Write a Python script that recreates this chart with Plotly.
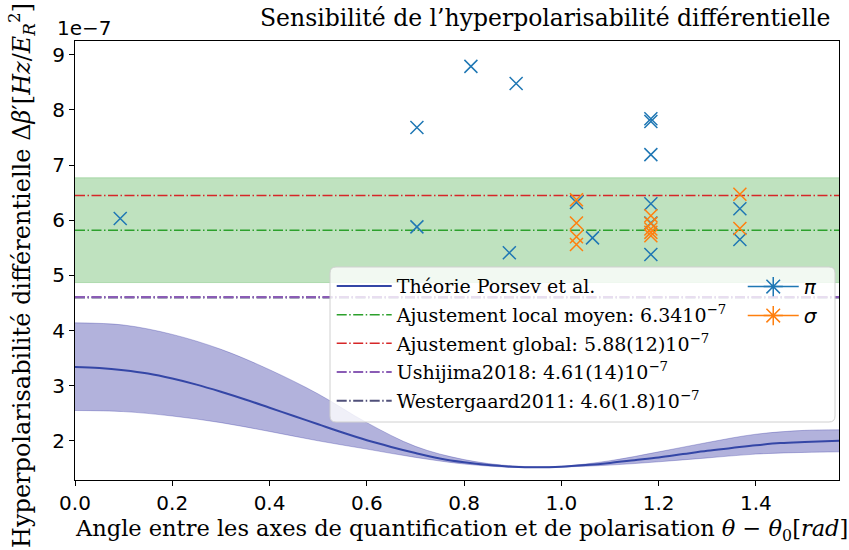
import math
import plotly.graph_objects as go

# ---------------- data (units of 1e-7) ----------------
theory_x = [0.0, 0.05, 0.1, 0.15, 0.2, 0.25, 0.3, 0.35, 0.4, 0.45, 0.5, 0.55, 0.6, 0.65,
            0.7, 0.75, 0.8, 0.85, 0.9, 0.95, 1.0, 1.05, 1.1, 1.15, 1.2, 1.25, 1.3, 1.35,
            1.4, 1.45, 1.5, 1.5708]
theory_y = [3.34, 3.32, 3.28, 3.22, 3.13, 3.02, 2.89, 2.75, 2.60, 2.45, 2.30, 2.15, 2.01, 1.89,
            1.78, 1.68, 1.61, 1.56, 1.53, 1.52, 1.53, 1.56, 1.60, 1.65, 1.70, 1.76, 1.82, 1.87,
            1.92, 1.96, 1.98, 2.00]
band_x = [0.0, 0.1, 0.2, 0.3, 0.4, 0.5, 0.6, 0.7, 0.8, 0.9, 1.0, 1.1, 1.2, 1.3, 1.4, 1.5, 1.5708]
band_upper = [4.14, 4.10, 3.93, 3.66, 3.29, 2.85, 2.33, 1.90, 1.66, 1.545, 1.54, 1.64, 1.80, 1.97, 2.12, 2.19, 2.20]
band_lower = [2.55, 2.53, 2.45, 2.33, 2.17, 2.00, 1.85, 1.70, 1.58, 1.52, 1.525, 1.56, 1.62, 1.69, 1.76, 1.79, 1.80]

pi_x = [0.093, 0.703, 0.703, 0.814, 0.907, 0.893, 1.031, 1.064, 1.184, 1.184, 1.184, 1.184, 1.184, 1.184, 1.367, 1.367]
pi_y = [6.03, 7.68, 5.88, 8.79, 8.48, 5.41, 6.32, 5.68, 7.84, 7.79, 7.19, 6.30, 5.95, 5.38, 6.21, 5.65]
sigma_x = [1.031, 1.031, 1.031, 1.031, 1.184, 1.184, 1.184, 1.184, 1.184, 1.367, 1.367]
sigma_y = [6.37, 5.95, 5.70, 5.56, 6.08, 5.94, 5.84, 5.78, 5.72, 6.47, 5.85]

local_mean = 5.82
local_err = 0.95
global_fit = 6.45
ushijima = 4.61
westergaard = 4.60

x_ticks = [0.0, 0.2, 0.4, 0.6, 0.8, 1.0, 1.2, 1.4]
y_ticks = [2, 3, 4, 5, 6, 7, 8, 9]

XMAX = math.pi / 2
SERIF = "DejaVu Serif"
SANS = "DejaVu Sans"
DASHDOT = "10px,2.5px,1.5px,2.5px"

fig = go.Figure()

# green band (local fit)
fig.add_trace(go.Scatter(x=[0, XMAX], y=[local_mean - local_err] * 2, mode="lines",
                         line=dict(width=0.8, color="rgba(44,160,44,0.35)"), showlegend=False, hoverinfo="skip"))
fig.add_trace(go.Scatter(x=[0, XMAX], y=[local_mean + local_err] * 2, mode="lines", fill="tonexty",
                         fillcolor="rgba(44,160,44,0.3)",
                         line=dict(width=0.8, color="rgba(44,160,44,0.35)"), showlegend=False, hoverinfo="skip"))

# horizontal lines
fig.add_trace(go.Scatter(x=[0, XMAX], y=[local_mean] * 2, mode="lines", name="Ajustement local moyen: 6.3410<sup>−7</sup>",
                         line=dict(color="#2ca02c", width=1.5, dash=DASHDOT), legendrank=2, legendgroup="b"))
fig.add_trace(go.Scatter(x=[0, XMAX], y=[global_fit] * 2, mode="lines", name="Ajustement global: 5.88(12)10<sup>−7</sup>",
                         line=dict(color="#d62728", width=1.5, dash=DASHDOT), legendrank=3, legendgroup="c"))
fig.add_trace(go.Scatter(x=[0, XMAX], y=[westergaard] * 2, mode="lines", name="Westergaard2011: 4.6(1.8)10<sup>−7</sup>",
                         line=dict(color="#50507a", width=2, dash=DASHDOT), legendrank=5, legendgroup="e"))
fig.add_trace(go.Scatter(x=[0, XMAX], y=[ushijima] * 2, mode="lines", name="Ushijima2018: 4.61(14)10<sup>−7</sup>",
                         line=dict(color="#8a5cb5", width=2, dash=DASHDOT), legendrank=4, legendgroup="d"))

# theory band + line
fig.add_trace(go.Scatter(x=band_x, y=band_lower, mode="lines", line=dict(width=0.8, color="rgba(0,0,139,0.3)", shape="spline"),
                         showlegend=False, hoverinfo="skip"))
fig.add_trace(go.Scatter(x=band_x, y=band_upper, mode="lines", fill="tonexty", fillcolor="rgba(0,0,139,0.3)",
                         line=dict(width=0.8, color="rgba(0,0,139,0.3)", shape="spline"), showlegend=False, hoverinfo="skip"))
fig.add_trace(go.Scatter(x=theory_x, y=theory_y, mode="lines", name="Théorie Porsev et al.",
                         line=dict(color="#3446a6", width=2, shape="spline"), legendrank=1, legendgroup="a"))

# points
fig.add_trace(go.Scatter(x=pi_x, y=pi_y, mode="markers", showlegend=False,
                         marker=dict(symbol="x-thin-open", size=13, line=dict(width=1.5, color="#1f77b4"), color="#1f77b4")))
fig.add_trace(go.Scatter(x=sigma_x, y=sigma_y, mode="markers", showlegend=False,
                         marker=dict(symbol="x-thin-open", size=13, line=dict(width=1.5, color="#ff7f0e"), color="#ff7f0e")))

# legend-only entries for pi / sigma
fig.add_trace(go.Scatter(x=[None], y=[None], mode="lines+markers", name="<i>π</i>", legend="legend2", legendgroup="p",
                         line=dict(color="#1f77b4", width=1.5),
                         marker=dict(symbol="asterisk-open", size=16, line=dict(width=1.5, color="#1f77b4"))))
fig.add_trace(go.Scatter(x=[None], y=[None], mode="lines+markers", name="<i>σ</i>", legend="legend2", legendgroup="s",
                         line=dict(color="#ff7f0e", width=1.5),
                         marker=dict(symbol="asterisk-open", size=16, line=dict(width=1.5, color="#ff7f0e"))))

# legend background box (rounded, semi transparent)
x0, x1, y0, y1 = 0.3338, 0.9948, 0.1321, 0.4852
rx, ry = 6 / 764, 6 / 439
path = (f"M {x0+rx},{y0} L {x1-rx},{y0} Q {x1},{y0} {x1},{y0+ry} L {x1},{y1-ry} Q {x1},{y1} {x1-rx},{y1} "
        f"L {x0+rx},{y1} Q {x0},{y1} {x0},{y1-ry} L {x0},{y0+ry} Q {x0},{y0} {x0+rx},{y0} Z")
fig.add_shape(type="path", path=path, xref="paper", yref="paper", layer="above",
              fillcolor="rgba(255,255,255,0.8)", line=dict(color="#d0d0d0", width=1))

axis_common = dict(showgrid=False, zeroline=False, showline=True, mirror=True, linecolor="black", linewidth=1,
                   ticks="outside", ticklen=5, tickcolor="black", tickwidth=1,
                   tickfont=dict(family=SANS, size=20, color="black"))

fig.update_layout(
    width=849, height=550,
    margin=dict(l=75, r=10, t=41, b=70),
    paper_bgcolor="white", plot_bgcolor="white",
    xaxis=dict(range=[0, XMAX], tickvals=x_ticks, ticktext=[f"{v:.1f}" for v in x_ticks], **axis_common),
    yaxis=dict(range=[1.29, 9.25], tickvals=y_ticks, ticktext=[str(v) for v in y_ticks], **axis_common),
    legend=dict(x=0.336, y=0.485, xanchor="left", yanchor="top", bgcolor="rgba(0,0,0,0)", borderwidth=0,
                font=dict(family=SERIF, size=19, color="black"), tracegroupgap=1, itemwidth=55),
    legend2=dict(x=0.874, y=0.485, xanchor="left", yanchor="top", bgcolor="rgba(0,0,0,0)", borderwidth=0,
                 font=dict(family=SANS, size=20, color="black"), tracegroupgap=0, itemwidth=51),
    showlegend=True,
    annotations=[
        dict(text="1e−7", xref="paper", yref="paper", x=-0.026, y=1.0296, xanchor="left", yanchor="middle",
             showarrow=False, font=dict(family=SANS, size=20, color="black")),
        dict(text="Sensibilité de l’hyperpolarisabilité différentielle", xref="paper", yref="paper",
             x=0.615, y=1.052, xanchor="center", yanchor="middle", showarrow=False,
             font=dict(family=SERIF, size=23.5, color="black")),
        dict(text="Angle entre les axes de quantification et de polarisation <i>θ</i> − <i>θ</i><sub>0</sub>[<i>rad</i>]",
             xref="paper", yref="paper", x=0.506, y=-0.114, xanchor="center", yanchor="middle", showarrow=False,
             font=dict(family=SERIF, size=22.5, color="black")),
        dict(text="Hyperpolarisabilité différentielle Δ<i>β</i>′[<i>Hz</i>/<i>E</i><sub><i>R</i></sub><sup>2</sup>]",
             xref="paper", yref="paper", x=-0.0694, y=0.467, xanchor="center", yanchor="middle", textangle=-90,
             showarrow=False, font=dict(family=SERIF, size=24, color="black")),
    ],
)

fig.write_html("out.html", post_script="document.body.style.margin='0px';",
               config={"displayModeBar": False})
